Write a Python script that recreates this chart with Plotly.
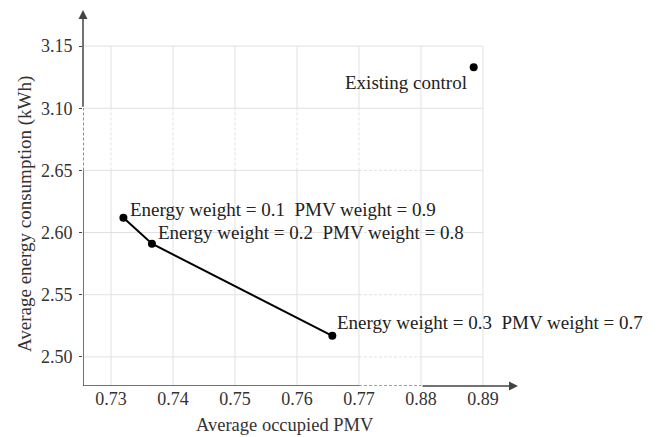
import plotly.graph_objects as go

# ---- data (real values) ----
pmv = [0.7320, 0.7366, 0.7657]
energy = [2.612, 2.591, 2.517]
labels = ["Energy weight = 0.1  PMV weight = 0.9",
          "Energy weight = 0.2  PMV weight = 0.8",
          "Energy weight = 0.3  PMV weight = 0.7"]
existing_pmv = [0.8885]
existing_energy = [3.133]
existing_label = "Existing control"

x_ticks = [0.73, 0.74, 0.75, 0.76, 0.77, 0.88, 0.89]
x_ticktext = ["0.73", "0.74", "0.75", "0.76", "0.77", "0.88", "0.89"]
y_ticks = [2.50, 2.55, 2.60, 2.65, 3.10, 3.15]
y_ticktext = ["2.50", "2.55", "2.60", "2.65", "3.10", "3.15"]

# ---- broken-axis scale mapping ----
X_BREAK_LO, X_BREAK_HI, X_SHIFT = 0.77, 0.88, 0.10
Y_BREAK_LO, Y_BREAK_HI, Y_SHIFT = 2.65, 3.10, 0.40


def bx(v):
    return v if v <= (X_BREAK_LO + X_BREAK_HI) / 2 else v - X_SHIFT


def by(v):
    return v if v <= (Y_BREAK_LO + Y_BREAK_HI) / 2 else v - Y_SHIFT


FONT = "Liberation Serif"
GRID = "#e1e1e1"
AXC = "#444444"
FINE_DASH = "3px,2px"

x0, x1 = 0.72548, 0.79565
y0, y1 = 2.4766, 2.779
xgl, xgh = bx(X_BREAK_LO), bx(X_BREAK_HI)
ygl, ygh = by(Y_BREAK_LO), by(Y_BREAK_HI)
xmax = bx(x_ticks[-1])
ymax = by(y_ticks[-1])

fig = go.Figure()

shapes = []


def seg(xa, ya, xb, yb, color, width=1, dash="solid", layer="below"):
    shapes.append(dict(type="line", xref="x", yref="y", x0=xa, y0=ya, x1=xb, y1=yb,
                       line=dict(color=color, width=width, dash=dash), layer=layer))


# horizontal gridlines
for t in y_ticks:
    yy = by(t)
    if t <= Y_BREAK_LO:
        seg(x0, yy, xgl, yy, GRID)
        seg(xgl, yy, xgh, yy, GRID, dash=FINE_DASH)
        seg(xgh, yy, xmax, yy, GRID)
    else:
        seg(x0, yy, xmax, yy, GRID)
# vertical gridlines
for t in x_ticks:
    xx = bx(t)
    if t <= X_BREAK_LO:
        seg(xx, y0, xx, ygl, GRID)
        seg(xx, ygl, xx, ygh, GRID, dash=FINE_DASH)
        seg(xx, ygh, xx, ymax, GRID)
    else:
        seg(xx, y0, xx, ymax, GRID)
    # x tick mark (pixel length, below the axis)
    shapes.append(dict(type="line", xref="x", yref="y", ysizemode="pixel", yanchor=y0,
                       x0=xx, x1=xx, y0=0, y1=-3, line=dict(color=AXC, width=1),
                       layer="above"))

# axis lines (with dashed breaks)
seg(x0, y0, xgl, y0, AXC, width=1.5, layer="above")
seg(xgl, y0, xgh, y0, AXC, width=1.2, dash=FINE_DASH, layer="above")
seg(x0, y0, x0, ygl, AXC, width=1.5, layer="above")
seg(x0, ygl, x0, ygh, AXC, width=1.2, dash=FINE_DASH, layer="above")

fig.add_trace(go.Scatter(
    x=[bx(v) for v in pmv], y=[by(v) for v in energy],
    mode="lines+markers", line=dict(color="black", width=2),
    marker=dict(color="black", size=8), showlegend=False, cliponaxis=False))
fig.add_trace(go.Scatter(
    x=[bx(v) for v in existing_pmv], y=[by(v) for v in existing_energy],
    mode="markers", marker=dict(color="black", size=8), showlegend=False,
    cliponaxis=False))

annotations = []
# arrows for axes
annotations.append(dict(x=x1, y=y0, ax=xgh, ay=y0, xref="x", yref="y", axref="x", ayref="y",
                        showarrow=True, arrowhead=2, arrowsize=1.2, arrowwidth=1.5,
                        arrowcolor=AXC, text=""))
annotations.append(dict(x=x0, y=y1, ax=x0, ay=ygh, xref="x", yref="y", axref="x", ayref="y",
                        showarrow=True, arrowhead=2, arrowsize=1.2, arrowwidth=1.5,
                        arrowcolor=AXC, text=""))

shifts = [(5, 8), (4, 11), (3, 13)]
for (px, py, lab, (dx, dy)) in zip(pmv, energy, labels, shifts):
    annotations.append(dict(x=bx(px), y=by(py), text=lab, showarrow=False,
                            xanchor="left", yanchor="middle", xshift=dx, yshift=dy,
                            font=dict(family=FONT, size=19, color="#222")))
annotations.append(dict(x=bx(existing_pmv[0]), y=by(existing_energy[0]), text=existing_label,
                        showarrow=False, xanchor="right", yanchor="middle",
                        xshift=-5, yshift=-15,
                        font=dict(family=FONT, size=19, color="#222")))

# axis titles
annotations.append(dict(x=(285 - 83) / 435, y=0.0, xref="paper", yref="paper", yshift=-39,
                        text="Average occupied PMV", showarrow=False,
                        xanchor="center", yanchor="middle",
                        font=dict(family=FONT, size=18.5, color="#333")))
annotations.append(dict(x=0, y=0.5, xref="paper", yref="paper", xshift=-58, yshift=-16,
                        text="Average energy consumption (kWh)", showarrow=False,
                        textangle=-90, xanchor="center", yanchor="middle",
                        font=dict(family=FONT, size=19, color="#333")))

fig.update_layout(
    width=658, height=437,
    margin=dict(l=83, r=140, t=10, b=51),
    plot_bgcolor="white", paper_bgcolor="white",
    shapes=shapes, annotations=annotations,
    xaxis=dict(range=[x0, x1], showgrid=False, zeroline=False, showline=False,
               tickvals=[bx(v) for v in x_ticks], ticktext=x_ticktext,
               ticks="", ticklen=0,
               tickfont=dict(family=FONT, size=18, color="#333")),
    yaxis=dict(range=[y0, y1], showgrid=False, zeroline=False, showline=False,
               tickvals=[by(v) for v in y_ticks], ticktext=y_ticktext,
               ticks="outside", ticklen=3, tickcolor=AXC, tickwidth=1,
               ticklabelstandoff=3,
               tickfont=dict(family=FONT, size=18, color="#333")),
)

fig.write_html("out.html")
